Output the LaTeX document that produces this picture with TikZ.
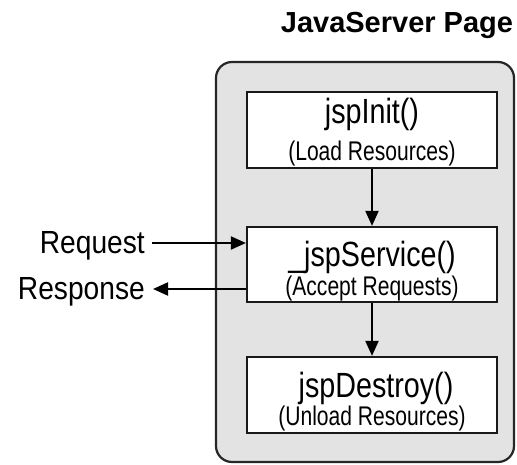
\documentclass[tikz,border=0pt]{standalone}
\usepackage{fontspec}
\setmainfont{Liberation Sans}
\newfontfamily\cndfont[FakeStretch=0.82]{Liberation Sans}
\newfontfamily\subfont[FakeStretch=0.78]{Liberation Sans}
\newfontfamily\sidefont[FakeStretch=0.88]{Liberation Sans}
\usetikzlibrary{arrows.meta}
\begin{document}
\begin{tikzpicture}[x=1pt,y=-1pt,
  panel/.style={draw=black!85, line width=2.2pt, fill=black!11, rounded corners=16pt},
  stage/.style={draw=black!90, line width=2.2pt, fill=white},
  mainlbl/.style={font=\cndfont\fontsize{35}{35}\selectfont, anchor=base, inner sep=0pt},
  sublbl/.style={font=\subfont\fontsize{27}{27}\selectfont, anchor=base, inner sep=0pt},
  sidelbl/.style={font=\sidefont\fontsize{32}{32}\selectfont, anchor=base east, inner sep=0pt},
  flow/.style={line width=2pt, -{Triangle[length=15pt,width=13pt]}}
]
\useasboundingbox (0,0) rectangle (517,465);
\fill[white] (0,0) rectangle (517,465);
\node[font=\bfseries\fontsize{29}{29}\selectfont, anchor=base, inner sep=0pt] (title) at (397,33) {JavaServer Page};
\draw[panel] (216,62) rectangle (514,462);
\node[stage, minimum width=250pt, minimum height=76pt, inner sep=0pt] (init) at (372,130) {};
\node[stage, minimum width=250pt, minimum height=75pt, inner sep=0pt] (svc) at (372,264.5) {};
\node[stage, minimum width=250pt, minimum height=76pt, inner sep=0pt] (dst) at (372,395) {};
\node[mainlbl] (t1) at (372,124) {jspInit()};
\node[sublbl] (s1) at (372,161) {(Load Resources)};
\node[mainlbl] (t2) at (372,267) {\_jspService()};
\node[sublbl] (s2) at (372,295) {(Accept Requests)};
\node[mainlbl] (t3) at (376,397) {jspDestroy()};
\node[sublbl] (s3) at (372,425) {(Unload Resources)};
\node[sidelbl] (req) at (145,254) {Request};
\node[sidelbl] (resp) at (145,300) {Response};
\coordinate (reqend) at (152,243);
\coordinate (respend) at (153,289);
\draw[flow] (init.south) -- (svc.north);
\draw[flow] (svc.south) -- (dst.north);
\draw[flow] (reqend) -- (reqend -| svc.west);
\draw[flow] (respend -| svc.west) -- (respend);
\end{tikzpicture}
\end{document}
